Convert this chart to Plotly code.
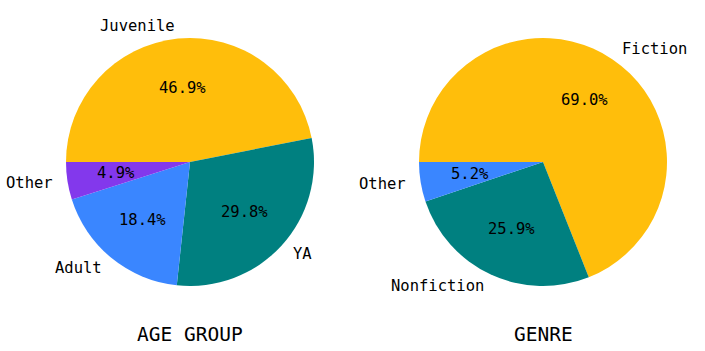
import math
import plotly.graph_objects as go

# Data
age_labels = ["Juvenile", "YA", "Adult", "Other"]
age_values = [46.9, 29.8, 18.4, 4.9]
genre_labels = ["Fiction", "Nonfiction", "Other"]
genre_values = [68.98, 25.86, 5.16]
titles = ["AGE GROUP", "GENRE"]
colors = ["#FFBE0B", "#008080", "#3A86FF", "#8338EC"]

W, H = 705, 351
FONT = "DejaVu Sans Mono"
R = 124.0
centers = [(190.0, 162.0), (543.0, 162.0)]

fig = go.Figure()
annotations = []

def px_to_paper(x, y):
    return x / W, 1 - y / H

for (labels, values, title, (cx, cy)) in zip(
    [age_labels, genre_labels], [age_values, genre_values], titles, centers
):
    x0, y1 = px_to_paper(cx - R, cy - R)
    x1, y0 = px_to_paper(cx + R, cy + R)
    fig.add_trace(go.Pie(
        labels=labels, values=values, sort=False, direction="clockwise",
        rotation=270, textinfo="none", hoverinfo="label+percent",
        marker=dict(colors=colors[:len(values)], line=dict(width=0)),
        domain=dict(x=[x0, x1], y=[y0, y1]), showlegend=False,
    ))
    total = sum(values)
    start = 180.0
    for lab, v in zip(labels, values):
        span = 360.0 * v / total
        mid = math.radians(start - span / 2)
        start -= span
        c, s = math.cos(mid), math.sin(mid)
        # outer label at 1.1 r
        lx, ly = px_to_paper(cx + 1.1 * R * c, cy - 1.1 * R * s)
        annotations.append(dict(
            x=lx, y=ly, xref="paper", yref="paper", text=lab, showarrow=False,
            xanchor="left" if c > 0 else "right", yanchor="middle",
            font=dict(family=FONT, size=15.5, color="black"),
        ))
        px_, py_ = px_to_paper(cx + 0.6 * R * c, cy - 0.6 * R * s)
        annotations.append(dict(
            x=px_, y=py_, xref="paper", yref="paper", text=f"{100*v/total:.1f}%",
            showarrow=False, xanchor="center", yanchor="middle",
            font=dict(family=FONT, size=15.5, color="black"),
        ))
    tx, ty = px_to_paper(cx, 334)
    annotations.append(dict(
        x=tx, y=ty, xref="paper", yref="paper", text=title, showarrow=False,
        xanchor="center", yanchor="middle",
        font=dict(family=FONT, size=19.5, color="black"),
    ))

fig.update_layout(
    width=W, height=H, margin=dict(l=0, r=0, t=0, b=0),
    paper_bgcolor="white", plot_bgcolor="white",
    annotations=annotations,
)
fig.write_html("out.html")
